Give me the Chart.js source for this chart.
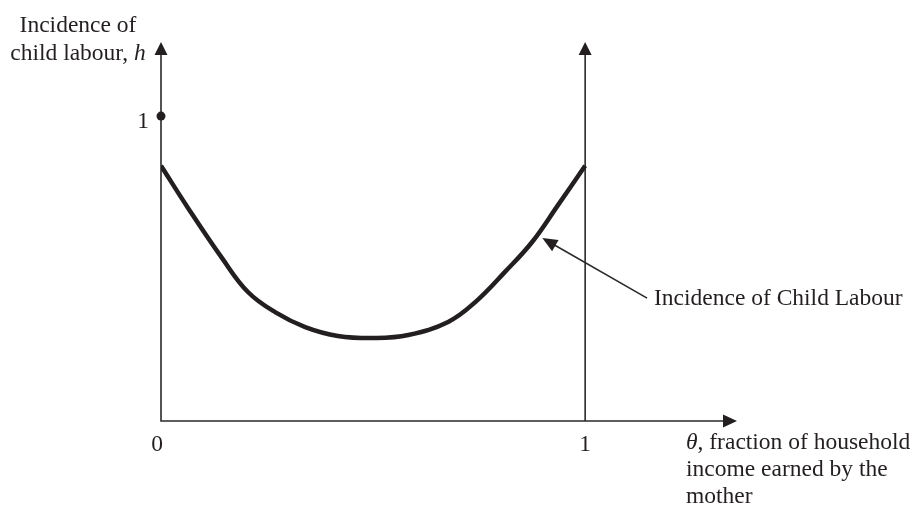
<!DOCTYPE html>
<html>
<head>
<meta charset="utf-8">
<script src="https://cdn.jsdelivr.net/npm/chart.js@4/dist/chart.umd.min.js"></script>
<style>
  html, body { margin:0; padding:0; background:#fff; }
  #cv { display:block; }
</style>
</head>
<body>
<canvas id="cv" width="922" height="505"></canvas>
<script>
// theta (fraction of income earned by mother) vs incidence of child labour h
const theta = [0, 0.064, 0.144, 0.205, 0.269, 0.340, 0.417, 0.505, 0.583, 0.677, 0.741, 0.811, 0.875, 0.936, 1.0];
const hVals = [0.837, 0.698, 0.534, 0.423, 0.357, 0.308, 0.279, 0.272, 0.282, 0.325, 0.390, 0.489, 0.587, 0.708, 0.837];
const xTicks = [0, 1];
const yTicks = [1];
const xMax = 1.358, yMax = 1.243;
const pointer = { tip:[0.899, 0.600], tail:[1.146, 0.403] }; // arrow to curve

const FONT = '"Liberation Serif", "Times New Roman", serif';
const INK = '#231f20';

function arrowHead(ctx, x1, y1, x2, y2, len, half) {
  const a = Math.atan2(y2 - y1, x2 - x1);
  ctx.beginPath();
  ctx.moveTo(x2, y2);
  ctx.lineTo(x2 - len*Math.cos(a) + half*Math.sin(a), y2 - len*Math.sin(a) - half*Math.cos(a));
  ctx.lineTo(x2 - len*Math.cos(a) - half*Math.sin(a), y2 - len*Math.sin(a) + half*Math.cos(a));
  ctx.closePath();
  ctx.fill();
}

const decor = {
  id: 'decor',
  beforeDatasetsDraw(chart) {
    const ctx = chart.ctx, sx = chart.scales.x, sy = chart.scales.y;
    const x0 = sx.getPixelForValue(0), y0 = sy.getPixelForValue(0);
    const x1 = sx.getPixelForValue(1);
    const top = sy.getPixelForValue(yMax), right = sx.getPixelForValue(xMax);
    ctx.save();
    ctx.strokeStyle = '#2a2a2a'; ctx.fillStyle = INK; ctx.lineWidth = 1.6;
    ctx.beginPath();
    ctx.moveTo(x0, top + 8); ctx.lineTo(x0, y0); ctx.lineTo(right - 8, y0);
    ctx.moveTo(x1, y0); ctx.lineTo(x1, top + 8);
    ctx.stroke();
    arrowHead(ctx, x0, y0, x0, top, 13, 6.5);
    arrowHead(ctx, x1, y0, x1, top, 13, 6.5);
    arrowHead(ctx, x0, y0, right, y0, 14, 6.5);
    // dot at h = 1
    ctx.beginPath();
    ctx.arc(x0, sy.getPixelForValue(1), 4.5, 0, Math.PI*2);
    ctx.fill();
    ctx.restore();
  },
  afterDatasetsDraw(chart) {
    const ctx = chart.ctx, sx = chart.scales.x, sy = chart.scales.y;
    ctx.save();
    ctx.fillStyle = INK;
    ctx.font = '23.5px ' + FONT;
    ctx.textBaseline = 'alphabetic';
    // tick labels
    ctx.textAlign = 'center';
    xTicks.forEach(t => ctx.fillText(String(t), sx.getPixelForValue(t) - (t === 0 ? 4 : 0), sy.getPixelForValue(0) + 30));
    ctx.textAlign = 'right';
    yTicks.forEach(t => ctx.fillText(String(t), sx.getPixelForValue(0) - 12, sy.getPixelForValue(t) + 12));
    // y-axis title
    ctx.textAlign = 'left';
    const l1 = 'Incidence of', l2a = 'child labour, ', l2b = 'h';
    ctx.fillText(l1, 78 - ctx.measureText(l1).width/2, 32);
    const wa = ctx.measureText(l2a).width;
    ctx.font = 'italic 23.5px ' + FONT;
    const wb = ctx.measureText(l2b).width;
    const s2 = 78 - (wa + wb)/2;
    ctx.font = '23.5px ' + FONT;
    ctx.fillText(l2a, s2, 60);
    ctx.font = 'italic 23.5px ' + FONT;
    ctx.fillText(l2b, s2 + wa, 60);
    // x-axis title
    const tx = 686;
    ctx.fillText('\u03B8', tx, 449);
    const wt = ctx.measureText('\u03B8').width;
    ctx.font = '23.5px ' + FONT;
    ctx.fillText(', fraction of household', tx + wt, 449);
    ctx.fillText('income earned by the', tx, 476);
    ctx.fillText('mother', tx, 503);
    // curve label + pointer
    ctx.fillText('Incidence of Child Labour', 654, 305);
    const ax = sx.getPixelForValue(pointer.tip[0]), ay = sy.getPixelForValue(pointer.tip[1]);
    const bx = sx.getPixelForValue(pointer.tail[0]), by = sy.getPixelForValue(pointer.tail[1]);
    ctx.strokeStyle = '#2a2a2a'; ctx.lineWidth = 1.6;
    ctx.beginPath();
    const a = Math.atan2(ay - by, ax - bx);
    ctx.moveTo(bx, by); ctx.lineTo(ax - 10*Math.cos(a), ay - 10*Math.sin(a));
    ctx.stroke();
    arrowHead(ctx, bx, by, ax, ay, 15, 6.5);
    ctx.restore();
  }
};

new Chart(document.getElementById('cv').getContext('2d'), {
  type: 'scatter',
  data: {
    datasets: [{
      label: 'Incidence of Child Labour',
      data: theta.map((t, i) => ({ x: t, y: hVals[i] })),
      showLine: true,
      borderColor: INK,
      borderWidth: 4.5,
      pointRadius: 0,
      tension: 0.4,
      borderCapStyle: 'butt'
    }]
  },
  options: {
    responsive: false,
    animation: false,
    layout: { padding: { left: 161, right: 185, top: 42, bottom: 84 } },
    plugins: { legend: { display:false }, tooltip: { enabled:false } },
    scales: {
      x: { type:'linear', min:0, max:xMax, display:false },
      y: { type:'linear', min:0, max:yMax, display:false }
    }
  },
  plugins: [decor]
});
</script>
</body>
</html>
